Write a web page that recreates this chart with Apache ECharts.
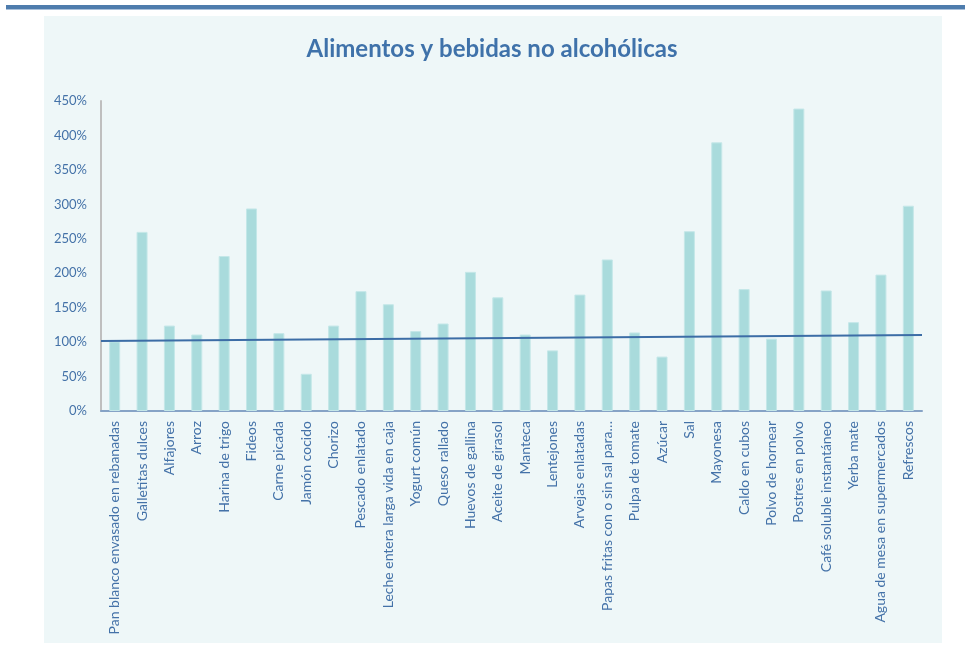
<!DOCTYPE html>
<html>
<head>
<meta charset="utf-8">
<script src="https://cdn.jsdelivr.net/npm/echarts@6/dist/echarts.min.js"></script>
<style>
html,body{margin:0;padding:0;background:#ffffff;}
#chart{width:965px;height:645px;}
</style>
</head>
<body>
<div id="chart"></div>
<script>
const titleText = "Alimentos y bebidas no alcohólicas";
const categories = [
  "Pan blanco envasado en rebanadas","Galletitas dulces","Alfajores","Arroz","Harina de trigo",
  "Fideos","Carne picada","Jamón cocido","Chorizo","Pescado enlatado",
  "Leche entera larga vida en caja","Yogurt común","Queso rallado","Huevos de gallina","Aceite de girasol",
  "Manteca","Lentejones","Arvejas enlatadas","Papas fritas con o sin sal para…","Pulpa de tomate",
  "Azúcar","Sal","Mayonesa","Caldo en cubos","Polvo de hornear",
  "Postres en polvo","Café soluble instantáneo","Yerba mate","Agua de mesa en supermercados","Refrescos"
];
const values = [
  101, 260, 124, 111, 225,
  294, 113, 54, 124, 174,
  155, 116, 127, 202, 165,
  111, 88, 169, 220, 114,
  79, 261, 390, 177, 105,
  439, 175, 129, 198, 298
];
const trendStartEnd = [101.6, 110.3];
const yTicks = [0, 50, 100, 150, 200, 250, 300, 350, 400, 450];

const FONT = "Lato, 'Liberation Sans', sans-serif";
const LABEL_COLOR = "#4472A8";

const chart = echarts.init(document.getElementById('chart'), null, {renderer: 'canvas'});
chart.setOption({
  animation: false,
  backgroundColor: '#ffffff',
  graphic: [
    {type: 'rect', shape: {x: 6, y: 5, width: 959, height: 4}, style: {fill: '#4E7CAD'}, z: -10},
    {type: 'rect', shape: {x: 6, y: 9, width: 959, height: 1}, style: {fill: '#A9C0DA'}, z: -10},
    {type: 'rect', shape: {x: 44, y: 16, width: 898, height: 627}, style: {fill: '#EEF7F8'}, z: -10}
  ],
  title: {
    text: titleText,
    left: 487,
    textAlign: 'center',
    top: 32,
    textStyle: {fontFamily: FONT, fontSize: 24, fontWeight: 'bold', color: '#3F72AA'}
  },
  grid: {left: 101, right: 43, top: 101, bottom: 234, containLabel: false},
  xAxis: [
    {
      type: 'category',
      data: categories,
      boundaryGap: true,
      axisLine: {show: true, lineStyle: {color: '#86A3C6', width: 2}},
      axisTick: {show: false},
      axisLabel: {
        interval: 0, rotate: 90, margin: 10,
        fontFamily: FONT, fontSize: 14, color: LABEL_COLOR
      }
    },
    {
      type: 'value', min: 0, max: 1, show: false
    }
  ],
  yAxis: {
    type: 'value',
    min: yTicks[0],
    max: yTicks[yTicks.length - 1],
    interval: yTicks[1] - yTicks[0],
    axisLine: {show: true, lineStyle: {color: '#BFBFBF', width: 2}},
    axisTick: {show: false},
    splitLine: {show: false},
    axisLabel: {
      formatter: '{value}%', margin: 14,
      fontFamily: FONT, fontSize: 13, color: LABEL_COLOR
    }
  },
  series: [
    {
      type: 'bar',
      data: values,
      barWidth: 11,
      itemStyle: {color: '#A9DBDC', borderColor: '#C4E7E8', borderWidth: 1},
      z: 2
    },
    {
      type: 'line',
      xAxisIndex: 1,
      data: [[0, trendStartEnd[0]], [1, trendStartEnd[1]]],
      symbol: 'none',
      lineStyle: {color: '#3C6DA6', width: 2},
      z: 3
    }
  ]
});
</script>
</body>
</html>
